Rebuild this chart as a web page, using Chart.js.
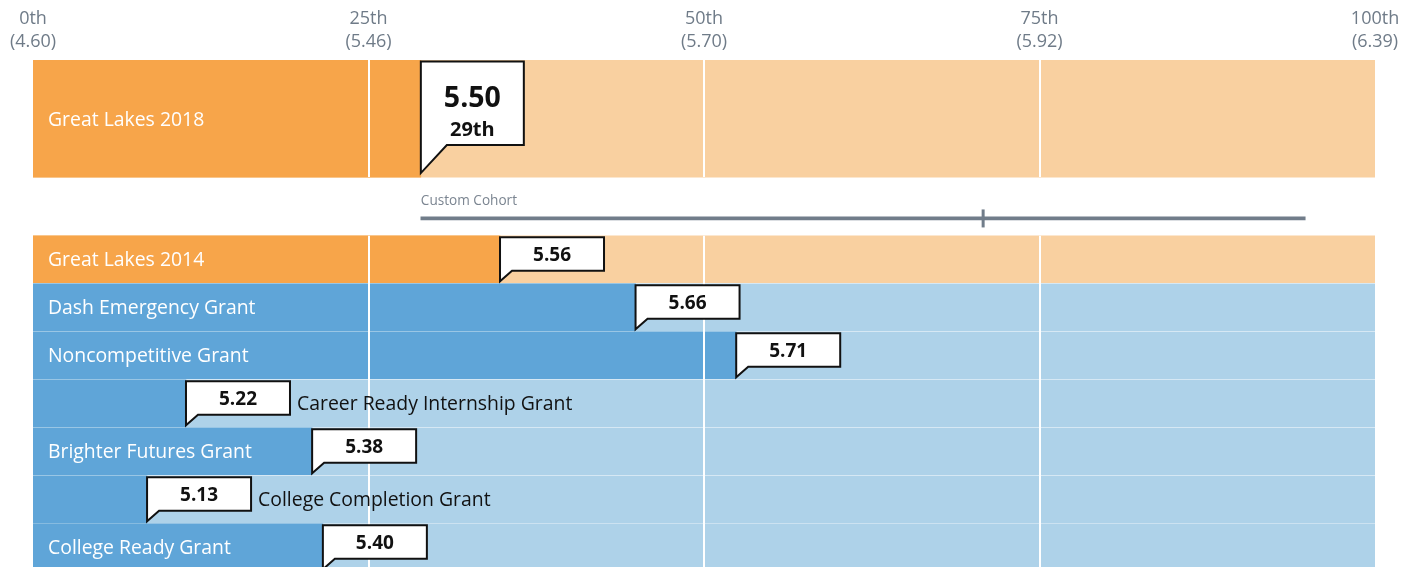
<!DOCTYPE html>
<html>
<head>
<meta charset="utf-8">
<script src="https://cdn.jsdelivr.net/npm/chart.js@4/dist/chart.umd.min.js"></script>
<style>
  html, body { margin: 0; padding: 0; background: #ffffff; overflow: hidden; }
  #wrap { width: 1401px; height: 567px; position: relative; }
</style>
</head>
<body>
<div id="wrap"><canvas id="c"></canvas></div>
<script>
// ---- data ----
const categories = ['Great Lakes 2018', 'Great Lakes 2014', 'Dash Emergency Grant', 'Noncompetitive Grant',
  'Career Ready Internship Grant', 'Brighter Futures Grant', 'College Completion Grant', 'College Ready Grant'];
const scores = ['5.50', '5.56', '5.66', '5.71', '5.22', '5.38', '5.13', '5.40'];
const percentiles = [28.9, 34.8, 44.9, 52.4, 11.4, 20.8, 8.5, 21.6];
const rowKinds = ['org', 'org', 'grant', 'grant', 'grant', 'grant', 'grant', 'grant'];
const rowY = [1.07, 4, 5, 6, 7, 8, 9, 10];
const tickPercentiles = [0, 25, 50, 75, 100];
const tickScores = ['4.60', '5.46', '5.70', '5.92', '6.39'];
const cohortLabel = 'Custom Cohort';
const cohortRange = [28.9, 94.8];
const cohortMedian = 70.8;
const cohortY = 3.15;

// ---- styles ----
const COLORS = {
  org:   { dark: '#F7A54A', light: '#F9D0A0' },
  grant: { dark: '#5FA5D8', light: '#AED2E9' }
};
const FONT = '"Open Sans", "Noto Sans", sans-serif';
const GREY = '#717d8a';

const ord = p => {
  const n = Math.round(p);
  const s = (n % 100 >= 11 && n % 100 <= 13) ? 'th' : (['th','st','nd','rd'][n % 10] || 'th');
  return n + s;
};

const lower = [1,2,3,4,5,6,7];
const datasets = [
  { label: 'bg-top', order: 4, data: [{ x: [0, 100], y: rowY[0] }], backgroundColor: COLORS[rowKinds[0]].light, barThickness: 117 },
  { label: 'bg-rows', order: 4, data: lower.map(i => ({ x: [0, 100], y: rowY[i] })), backgroundColor: lower.map(i => COLORS[rowKinds[i]].light), barThickness: 47 },
  { label: 'fg-top', order: 3, data: [{ x: [0, percentiles[0]], y: rowY[0] }], backgroundColor: COLORS[rowKinds[0]].dark, barThickness: 117 },
  { label: 'fg-rows', order: 3, data: lower.map(i => ({ x: [0, percentiles[i]], y: rowY[i] })), backgroundColor: lower.map(i => COLORS[rowKinds[i]].dark), barThickness: 47 },
  { label: 'cohort', order: 2, data: [{ x: cohortRange, y: cohortY }], backgroundColor: GREY, barThickness: 3 },
  { label: 'median', order: 1, type: 'scatter', data: [{ x: cohortMedian, y: cohortY }], pointStyle: 'line', rotation: 90,
    radius: 9, borderColor: GREY, borderWidth: 3, backgroundColor: GREY }
];

const overlay = {
  id: 'overlay',
  afterDatasetsDraw(chart) {
    const ctx = chart.ctx;
    const xs = chart.scales.x;
    const topBar = chart.getDatasetMeta(0).data[0];
    const rowBars = chart.getDatasetMeta(1).data;
    const ext = el => { const p = el.getProps(['y', 'height'], true); return [p.y - p.height / 2, p.y + p.height / 2]; };
    const rows = [ext(topBar)].concat(rowBars.map(ext));

    // white grid lines over the bars
    ctx.save();
    ctx.strokeStyle = '#ffffff';
    ctx.lineWidth = 2;
    const spans = [[rows[0][0], rows[0][1]], [rows[1][0], chart.chartArea.bottom]];
    tickPercentiles.slice(1, -1).forEach(t => {
      const px = Math.round(xs.getPixelForValue(t));
      spans.forEach(([a, b]) => { ctx.beginPath(); ctx.moveTo(px, a); ctx.lineTo(px, b); ctx.stroke(); });
    });
    ctx.restore();

    // cohort label
    ctx.save();
    ctx.fillStyle = '#7b8591';
    ctx.font = '13.6px ' + FONT;
    ctx.textBaseline = 'middle';
    ctx.textAlign = 'left';
    const cy = chart.scales.y.getPixelForValue(cohortY);
    ctx.fillText(cohortLabel, xs.getPixelForValue(cohortRange[0]), cy - 17);
    ctx.restore();

    // row labels and callouts
    categories.forEach((name, i) => {
      const [top, bottom] = rows[i];
      const mid = (top + bottom) / 2;
      const endPx = xs.getPixelForValue(percentiles[i]);
      const big = i === 0;
      const boxW = big ? 103 : 104;
      const boxTop = top + 1.5;
      const boxBottom = big ? top + 85 : top + 35;
      const tip = big ? bottom - 4 : bottom - 1.5;
      const tailDx = big ? 26 : 12;

      ctx.save();
      ctx.font = '19.4px ' + FONT;
      ctx.textBaseline = 'middle';
      const w = ctx.measureText(name).width;
      if (48 + w + 10 < endPx) {
        ctx.fillStyle = '#ffffff';
        ctx.fillText(name, 48, mid + 1.5);
      } else {
        ctx.fillStyle = '#111111';
        ctx.fillText(name, endPx + boxW + 7, mid + 1.5);
      }
      ctx.restore();

      ctx.save();
      ctx.beginPath();
      ctx.moveTo(endPx, boxTop);
      ctx.lineTo(endPx + boxW, boxTop);
      ctx.lineTo(endPx + boxW, boxBottom);
      ctx.lineTo(endPx + tailDx, boxBottom);
      ctx.lineTo(endPx, tip);
      ctx.closePath();
      ctx.fillStyle = '#ffffff';
      ctx.fill();
      ctx.lineWidth = 2;
      ctx.lineJoin = 'miter';
      ctx.strokeStyle = '#111111';
      ctx.stroke();
      ctx.fillStyle = '#111111';
      ctx.textAlign = 'center';
      ctx.textBaseline = 'middle';
      const cx = endPx + boxW / 2;
      if (big) {
        ctx.font = 'bold 28.5px ' + FONT;
        ctx.fillText(scores[i], cx, top + 39);
        ctx.font = 'bold 20px ' + FONT;
        ctx.fillText(ord(percentiles[i]), cx, top + 70);
      } else {
        ctx.font = 'bold 19px ' + FONT;
        ctx.fillText(scores[i], cx, (boxTop + boxBottom) / 2 + 1.5);
      }
      ctx.restore();
    });
  }
};

new Chart(document.getElementById('c'), {
  type: 'bar',
  data: { datasets },
  options: {
    indexAxis: 'y',
    responsive: true,
    maintainAspectRatio: false,
    animation: false,
    devicePixelRatio: 1,
    layout: { autoPadding: false, padding: { left: 33, right: 26, top: 0, bottom: 0 } },
    datasets: { bar: { grouped: false, borderWidth: 0 } },
    plugins: { legend: { display: false }, tooltip: { enabled: false } },
    scales: {
      x: {
        type: 'linear', position: 'top', min: 0, max: 100,
        grid: { display: false }, border: { display: false },
        afterBuildTicks: s => { s.ticks = tickPercentiles.map(v => ({ value: v })); },
        afterFit: s => { s.height = 60; s.paddingLeft = 0; s.paddingRight = 0; },
        ticks: {
          color: '#6f7b88', padding: -2,
          font: { family: FONT, size: 18, lineHeight: 1.3 },
          maxRotation: 0, autoSkip: false,
          callback: (v, idx) => [ord(tickPercentiles[idx]), '(' + tickScores[idx] + ')']
        }
      },
      y: { type: 'linear', offset: false, min: -0.15, max: 10.41, reverse: true, display: false }
    }
  },
  plugins: [overlay]
});
</script>
</body>
</html>
